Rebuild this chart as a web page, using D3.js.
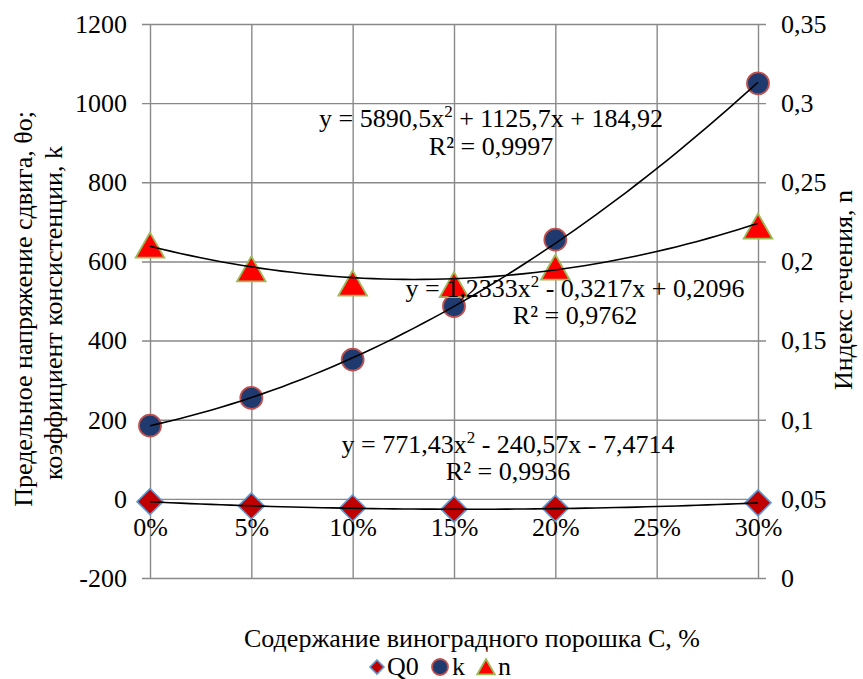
<!DOCTYPE html>
<html>
<head>
<meta charset="utf-8">
<script src="https://cdn.jsdelivr.net/npm/d3@7"></script>
<style>
  #rheo text { font-family: "Liberation Serif", monospace; }
</style>
</head>
<body style="margin:0">
<svg id="rheo" width="863" height="679"></svg>
<script>
// Grape powder content C (fraction) and the measured rheology parameters
const contents = [0, 0.05, 0.10, 0.15, 0.20, 0.30];
const q0Values = [-7, -18, -23, -26, -24, -10];              // yield stress θo
const kValues  = [185, 255, 352, 487, 655, 1050];            // consistency coefficient k
const nValues  = [0.210, 0.195, 0.186, 0.185, 0.196, 0.222]; // flow index n

// Quadratic trendline coefficients [a, b, c] for y = a·x² + b·x + c, and R²
const q0Fit = [771.43, -240.57, -7.4714]; const q0R2 = 0.9936;
const kFit  = [5890.5, 1125.7, 184.92];   const kR2  = 0.9997;
const nFit  = [1.2333, -0.3217, 0.2096];  const nR2  = 0.9762;

const xTicks = [0, 0.05, 0.10, 0.15, 0.20, 0.25, 0.30];
const leftTicks = [-200, 0, 200, 400, 600, 800, 1000, 1200];
const rightTicks = [0, 0.05, 0.10, 0.15, 0.20, 0.25, 0.30, 0.35];

const legendItems = [
  { key: "q0", label: "Q0" },
  { key: "k", label: "k" },
  { key: "n", label: "n" }
];

const fontSize = 26;
const svg = d3.select("#rheo");
const L = 150, R = 758, T = 24, B = 578;

const x = d3.scaleLinear().domain([0, 0.30]).range([L, R]);
const yL = d3.scaleLinear().domain([-200, 1200]).range([B, T]);
const yR = d3.scaleLinear().domain([0, 0.35]).range([B, T]);

const gridColor = "#898989";

const fontStyle = s => s
  .attr("font-size", fontSize)
  .attr("fill", "#000")
  .style("font-family", () => `"Liberation Serif", monospace`);
const styleText = g => g.selectAll("text").call(fontStyle);
const addText = sel => sel.append("text").call(fontStyle);

// Horizontal gridlines (extend past both axes as tick marks)
svg.append("g")
  .attr("transform", `translate(${R + 8},0)`)
  .call(d3.axisLeft(yL).tickValues(leftTicks).tickSize(R - L + 16).tickFormat(""))
  .call(g => g.select(".domain").remove())
  .call(g => g.selectAll("line").attr("stroke", gridColor).attr("stroke-width", 1.4));

// Vertical gridlines
svg.append("g")
  .attr("transform", `translate(0,${B})`)
  .call(d3.axisTop(x).tickValues(xTicks).tickSize(B - T).tickFormat(""))
  .call(g => g.select(".domain").remove())
  .call(g => g.selectAll("line").attr("stroke", gridColor).attr("stroke-width", 1.4));

// Left axis labels
svg.append("g")
  .attr("transform", `translate(${L},0)`)
  .call(d3.axisLeft(yL).tickValues(leftTicks).tickSize(0).tickPadding(23).tickFormat(v => String(v)))
  .call(g => g.select(".domain").remove())
  .call(g => g.attr("font-family", null).attr("font-size", null))
  .call(styleText);

// Right axis labels
const commaFmt = v => String(+v.toFixed(2)).replace(".", ",");
svg.append("g")
  .attr("transform", `translate(${R},0)`)
  .call(d3.axisRight(yR).tickValues(rightTicks).tickSize(0).tickPadding(23).tickFormat(commaFmt))
  .call(g => g.select(".domain").remove())
  .call(g => g.attr("font-family", null).attr("font-size", null))
  .call(styleText);

// Category axis crossing at zero
svg.append("g")
  .attr("transform", `translate(0,${yL(0)})`)
  .call(d3.axisBottom(x).tickValues(xTicks).tickSize(0).tickPadding(19).tickFormat(d3.format(".0%")))
  .call(g => g.select(".domain").remove())
  .call(g => g.attr("font-family", null).attr("font-size", null))
  .call(styleText);

// Marker shapes
const diamond = (g, size) => g.append("path")
  .attr("d", `M0,${-size}L${size},0L0,${size}L${-size},0Z`)
  .attr("fill", "#C00000").attr("stroke", "#5B9BD5").attr("stroke-width", 1.6);
const circle = (g, r) => g.append("circle").attr("r", r)
  .attr("fill", "#1F3A6E").attr("stroke", "#C0504D").attr("stroke-width", 1.8);
const triangle = (g, s) => g.append("path")
  .attr("d", `M0,${-s}L${s * 1.1},${s * 0.92}L${-s * 1.1},${s * 0.92}Z`)
  .attr("fill", "#FF0000").attr("stroke", "#9BBB59").attr("stroke-width", 1.8);

const markers = svg.append("g");
contents.forEach((c, i) => {
  diamond(markers.append("g").attr("transform", `translate(${x(c)},${yL(q0Values[i])})`), 13);
});
contents.forEach((c, i) => {
  circle(markers.append("g").attr("transform", `translate(${x(c)},${yL(kValues[i])})`), 11);
});
contents.forEach((c, i) => {
  triangle(markers.append("g").attr("transform", `translate(${x(c)},${yR(nValues[i])})`), 13);
});

// Polynomial trendlines
const poly = f => t => f[0] * t * t + f[1] * t + f[2];
const samples = d3.range(0, 0.3001, 0.005);
const line = (yScale, f) => d3.line().x(t => x(t)).y(t => yScale(poly(f)(t)))(samples);
[[yL, q0Fit], [yL, kFit], [yR, nFit]].forEach(([ys, f]) => {
  svg.append("path").attr("d", line(ys, f))
    .attr("fill", "none").attr("stroke", "#000").attr("stroke-width", 1.6);
});

// Trendline equations
const num = v => String(Math.abs(v)).replace(".", ",");
const sign = v => (v < 0 ? " - " : " + ");
const labels = [
  { f: kFit, r: kR2, cx: 491, by: 127, gap: 28 },
  { f: nFit, r: nR2, cx: 575, by: 297, gap: 27 },
  { f: q0Fit, r: q0R2, cx: 508, by: 453, gap: 27 }
];
labels.forEach(l => {
  const t = addText(svg).attr("text-anchor", "middle").attr("x", l.cx).attr("y", l.by);
  t.append("tspan").text(`y = ${num(l.f[0])}x`);
  t.append("tspan").attr("dy", -10).attr("font-size", 17).text("2");
  t.append("tspan").attr("dy", 10).text(`${sign(l.f[1])}${num(l.f[1])}x${sign(l.f[2])}${num(l.f[2])}`);
  addText(svg).attr("text-anchor", "middle").attr("x", l.cx).attr("y", l.by + l.gap)
    .text(`R² = ${num(l.r)}`);
});

// Axis titles
addText(svg)
  .attr("transform", "translate(32,309) rotate(-90)")
  .attr("text-anchor", "middle")
  .text("Предельное напряжение сдвига, θo;");
addText(svg)
  .attr("transform", "translate(62,313) rotate(-90)")
  .attr("text-anchor", "middle")
  .text("коэффициент консистенции, k");
addText(svg)
  .attr("transform", "translate(852,290) rotate(-90)")
  .attr("text-anchor", "middle")
  .text("Индекс течения, n");
addText(svg)
  .attr("x", 472).attr("y", 647)
  .attr("text-anchor", "middle")
  .text("Содержание виноградного порошка С, %");

// Legend
const legend = svg.append("g").attr("transform", "translate(0,667)");
const legendX = [377, 440, 486];
legendItems.forEach((it, i) => {
  const g = legend.append("g").attr("transform", `translate(${legendX[i]},0)`);
  if (it.key === "q0") diamond(g, 7);
  else if (it.key === "k") circle(g, 8);
  else triangle(g, 8);
  addText(g).attr("x", it.key === "q0" ? 10 : 12).attr("y", 8).text(it.label);
});
</script>
</body>
</html>
